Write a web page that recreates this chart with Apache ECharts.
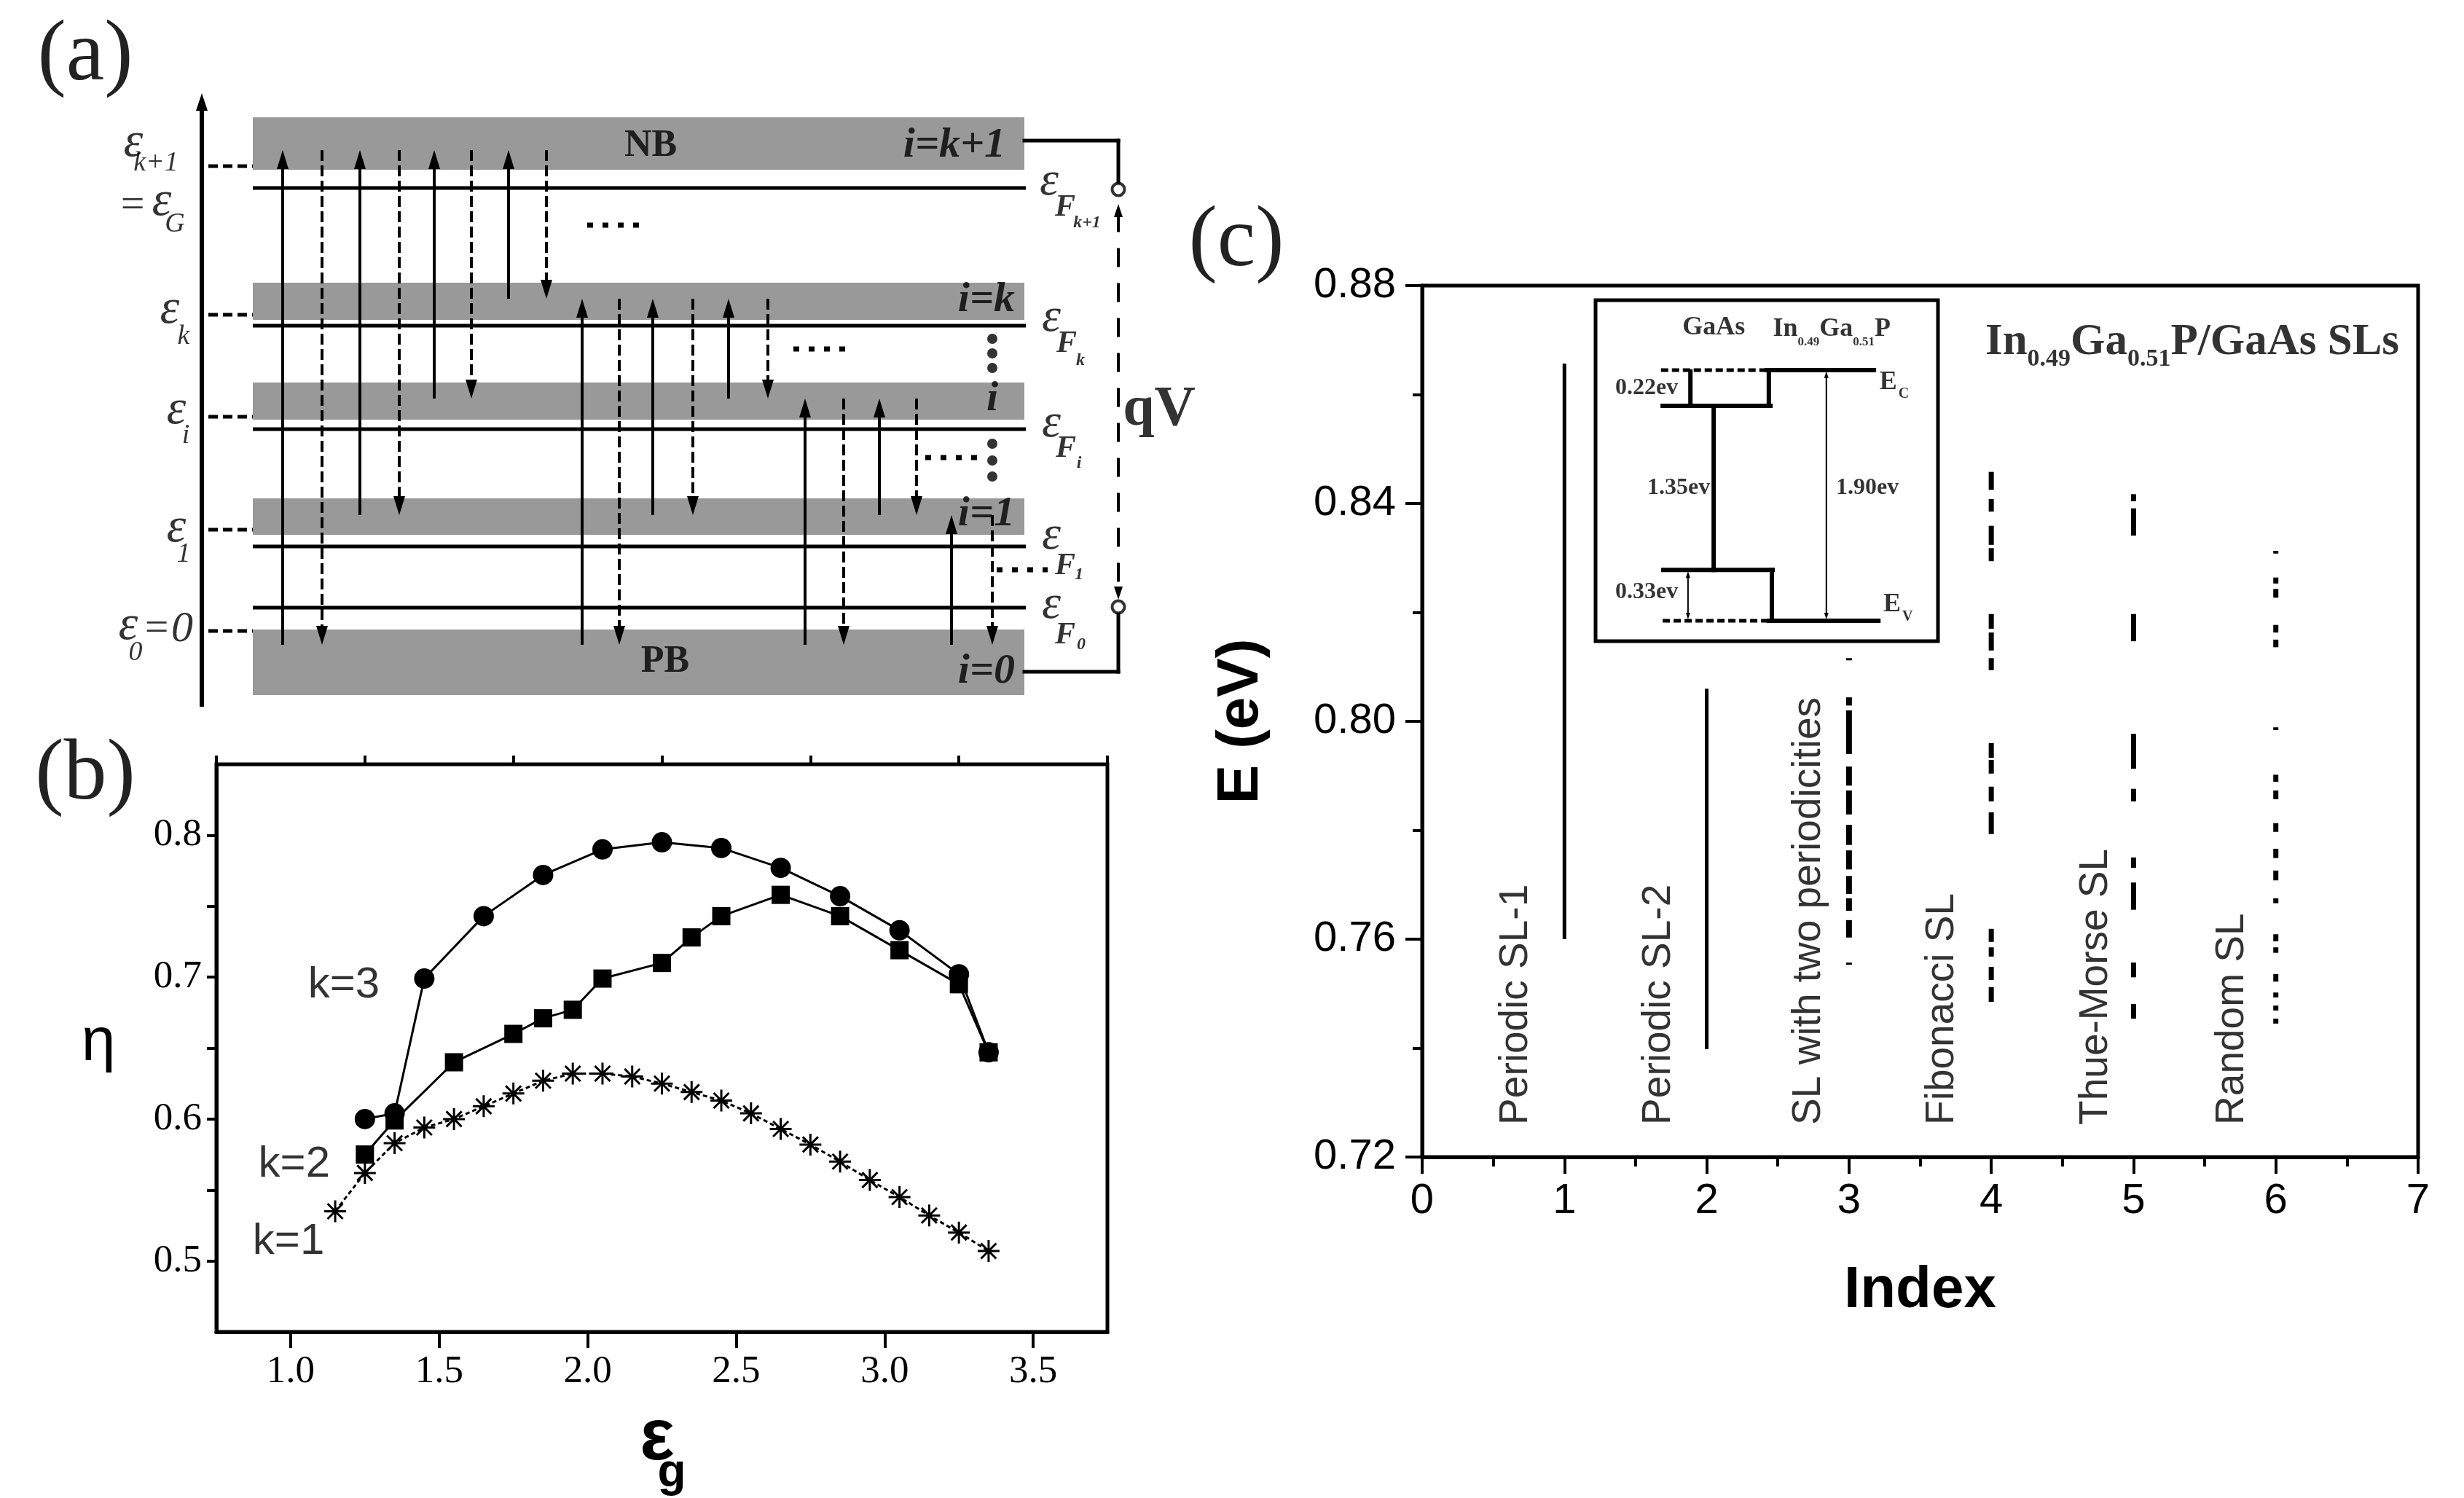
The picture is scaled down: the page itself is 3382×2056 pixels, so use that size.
<!DOCTYPE html>
<html><head><meta charset="utf-8">
<script src="https://cdn.jsdelivr.net/npm/echarts@6/dist/echarts.min.js"></script>
<style>html,body{margin:0;padding:0;background:#fff}#c{width:3382px;height:2056px}</style>
</head><body><div id="c"></div>
<script>
// ================= DATA =================
// ---- Panel (b): efficiency eta vs band gap eps_g ----
const bX_k3 = [1.25,1.35,1.45,1.65,1.85,2.05,2.25,2.45,2.65,2.85,3.05,3.25,3.35];
const bY_k3 = [0.600,0.604,0.699,0.743,0.772,0.790,0.795,0.791,0.777,0.757,0.733,0.702,0.647];
const bX_k2 = [1.25,1.35,1.55,1.75,1.85,1.95,2.05,2.25,2.35,2.45,2.65,2.85,3.05,3.25,3.35];
const bY_k2 = [0.575,0.599,0.640,0.660,0.671,0.677,0.699,0.710,0.728,0.743,0.758,0.743,0.719,0.695,0.647];
const bX_k1 = [1.15,1.25,1.35,1.45,1.55,1.65,1.75,1.85,1.95,2.05,2.15,2.25,2.35,2.45,2.55,2.65,2.75,2.85,2.95,3.05,3.15,3.25,3.35];
const bY_k1 = [0.535,0.562,0.583,0.594,0.600,0.609,0.618,0.627,0.632,0.632,0.630,0.625,0.619,0.613,0.604,0.593,0.582,0.570,0.557,0.545,0.532,0.520,0.507];
const bXTicks = [1.0,1.5,2.0,2.5,3.0,3.5];
const bXMinor = [0.75,1.25,1.75,2.25,2.75,3.25,3.75];
const bYTicks = [0.5,0.55,0.6,0.65,0.7,0.75,0.8];
const bYLabels = [0.5,0.6,0.7,0.8];

// ---- Panel (c): energy levels (eV) per SL index, as [low, high] intervals ----
const cIndex = [1,2,3,4,5,6];
const cNames = ['Periodic SL-1','Periodic SL-2','SL with two periodicities','Fibonacci SL','Thue-Morse SL','Random SL'];
const sl1 = [[0.7600,0.8657]];
const sl2 = [[0.7398,0.8060]];
const sl3 = [[0.8112,0.8116],[0.8029,0.8044],[0.7940,0.8020],[0.7882,0.7917],[0.7829,0.7873],[0.7773,0.7810],
             [0.7728,0.7763],[0.7683,0.7716],[0.7652,0.7675],[0.7603,0.7635],[0.7553,0.7557]];
const sl4 = [[0.8425,0.8458],[0.8385,0.8408],[0.8324,0.8359],[0.8294,0.8318],[0.8170,0.8197],[0.8130,0.8163],
             [0.8094,0.8116],[0.7933,0.7960],[0.7904,0.7929],[0.7853,0.7880],[0.7793,0.7833],[0.7595,0.7619],
             [0.7568,0.7585],[0.7525,0.7549],[0.7485,0.7512]];
const sl5 = [[0.8404,0.8417],[0.8341,0.8391],[0.8147,0.8197],[0.7913,0.7977],[0.7853,0.7876],[0.7731,0.7750],
             [0.7654,0.7704],[0.7530,0.7557],[0.7454,0.7481]];
const sl6 = [[0.8308,0.8313],[0.8253,0.8264],[0.8227,0.8243],[0.8163,0.8177],[0.8136,0.8150],[0.7984,0.7989],
             [0.7889,0.7902],[0.7857,0.7873],[0.7797,0.7813],[0.7749,0.7766],[0.7708,0.7726],[0.7666,0.7675],
             [0.7596,0.7609],[0.7575,0.7585],[0.7522,0.7536],[0.7493,0.7502],[0.7469,0.7478],[0.7445,0.7454]];
const cLevels = [sl1, sl2, sl3, sl4, sl5, sl6];

// ---- Panel (c) inset: band-edge diagram, drawing units (0..1 of inset box) ----
const insEcInGaP = 0.795, insEcGaAs = 0.690, insEvGaAs = 0.209, insEvInGaP = 0.060;

// ---- Panel (a): schematic levels (drawing units, y up). Order: NB, i=k, i, i=1, PB ----
const bandTopA  = [839, 612, 475, 316, 136];
const bandBotA  = [767, 561, 424, 266, 46];
const arrowYA   = [794, 590, 453, 293, 115];
const markerYA  = [772, 568, 428, 273, 134];
const fermiYA   = [742, 553, 411, 250, 166];
const solidColA = [388,494,596,698,799,896,1000,1105,1207,1306];
const dashColA  = [442,548,647,750,850,951,1054,1158,1258,1362];
const transFromA = [4,3,2,1,4,3,2,4,3,4];
const transToA   = [0,0,0,0,1,1,1,2,2,3];

// ================= HELPERS =================
const SERIF = '"Liberation Serif", "Times New Roman", serif';
const SANS = '"Liberation Sans", Arial, sans-serif';

function segSeries(xi, yi, data, o) {
  return {
    type: 'custom', xAxisIndex: xi, yAxisIndex: yi, data: data, silent: true, clip: false, z: o.z || 3,
    renderItem: function (params, api) {
      const a = api.coord([api.value(0), api.value(1)]);
      const b = api.coord([api.value(2), api.value(3)]);
      const dx = b[0] - a[0], dy = b[1] - a[1];
      const len = Math.hypot(dx, dy) || 1;
      const ux = dx / len, uy = dy / len, nx = -uy, ny = ux;
      const L = o.headLen || 0, W = o.headW || 0;
      let p1 = a.slice(), p2 = b.slice();
      const kids = [];
      function head(tip, s) {
        const bx = tip[0] - s * ux * L, by = tip[1] - s * uy * L;
        return { type: 'polygon', shape: { points: [[tip[0], tip[1]], [bx + nx * W, by + ny * W], [bx - nx * W, by - ny * W]] }, style: { fill: '#000' } };
      }
      if (o.arrowEnd) { p2 = [b[0] - ux * L * 0.7, b[1] - uy * L * 0.7]; kids.push(head(b, 1)); }
      if (o.arrowStart) { p1 = [a[0] + ux * L * 0.7, a[1] + uy * L * 0.7]; kids.push(head(a, -1)); }
      kids.unshift({ type: 'line', shape: { x1: p1[0], y1: p1[1], x2: p2[0], y2: p2[1] },
        style: { stroke: '#000', lineWidth: o.width || 2, lineDash: o.dash || null, lineCap: o.cap || 'butt' } });
      return { type: 'group', children: kids };
    }
  };
}
function rectSeries(xi, yi, data, color) {
  return {
    type: 'custom', xAxisIndex: xi, yAxisIndex: yi, data: data, silent: true, clip: false, z: 1,
    renderItem: function (params, api) {
      const a = api.coord([api.value(0), api.value(1)]);
      const b = api.coord([api.value(2), api.value(3)]);
      return { type: 'rect', shape: { x: Math.min(a[0], b[0]), y: Math.min(a[1], b[1]), width: Math.abs(b[0] - a[0]), height: Math.abs(b[1] - a[1]) }, style: { fill: color } };
    }
  };
}
function lbl(x, y, text, style) {
  return { value: [x, y], label: Object.assign({ show: true, formatter: text, position: 'inside', align: 'center', verticalAlign: 'middle', color: '#000' }, style) };
}
function labelSeries(xi, yi, items) {
  return { type: 'scatter', xAxisIndex: xi, yAxisIndex: yi, data: items, symbolSize: 1, itemStyle: { color: 'rgba(0,0,0,0)' }, silent: true, clip: false, z: 10 };
}

// ================= PANEL (a) geometry from arrays =================
const bandXA = [347, 1406];
const aBands = bandTopA.map((t, i) => [bandXA[0], bandBotA[i], bandXA[1], t]);
const aFermi = fermiYA.map(y => [347, y, 1408, y]);
const aMarkers = markerYA.map(y => [286, y, 347, y]);
const aSolidArrows = transFromA.map((f, i) => [solidColA[i], arrowYA[f], solidColA[i], arrowYA[transToA[i]]]);
const aDashArrows = transFromA.map((f, i) => [dashColA[i], arrowYA[transToA[i]], dashColA[i], arrowYA[f]]);
const aAxis = [[277, 30, 277, 872]];
const aCircuit = [[1406, 807, 1535, 807], [1535, 807, 1535, 748], [1535, 158, 1535, 78], [1535, 78, 1406, 78]];
const aQV = [[1535, 720, 1535, 177]];
const aDots = [[806, 691, 877, 691], [1089, 521, 1163, 521], [1270, 372, 1347, 372], [1368, 218, 1438, 218]];
const aBullets = [[1362, 535], [1362, 515], [1362, 495], [1362, 391], [1362, 368], [1362, 346]];
const aTerminals = [[1535, 740], [1535, 167]];

const epsL = { fontFamily: SERIF, fontStyle: 'italic', fontSize: 68 };
const subL = { fontFamily: SERIF, fontStyle: 'italic', fontSize: 38 };
const epsR = { fontFamily: SERIF, fontStyle: 'italic', fontSize: 66 };
const fR = { fontFamily: SERIF, fontStyle: 'italic', fontWeight: 'bold', fontSize: 42 };
const ffR = { fontFamily: SERIF, fontStyle: 'italic', fontWeight: 'bold', fontSize: 24 };
const bandI = { fontFamily: SERIF, fontStyle: 'italic', fontWeight: 'bold', fontSize: 58, align: 'right' };
const bandB = { fontFamily: SERIF, fontWeight: 'bold', fontSize: 52 };

const aLabels = [
  lbl(183, 804, 'ε', epsL), lbl(214, 776, 'k+1', subL),
  lbl(182, 717, '=', { fontFamily: SERIF, fontSize: 58 }), lbl(222, 723, 'ε', epsL), lbl(240, 692, 'G', subL),
  lbl(233, 575, 'ε', epsL), lbl(252, 538, 'k', subL),
  lbl(242, 437, 'ε', epsL), lbl(255, 402, 'i', subL),
  lbl(242, 275, 'ε', epsL), lbl(252, 239, '1', subL),
  lbl(176, 141, 'ε', epsL), lbl(186, 104, '0', subL),
  lbl(215, 136, '=', { fontFamily: SERIF, fontSize: 58 }), lbl(250, 136, '0', { fontFamily: SERIF, fontStyle: 'italic', fontSize: 60 }),
  lbl(1440, 750, 'ε', epsR), lbl(1462, 715, 'F', fR), lbl(1492, 694, 'k+1', ffR),
  lbl(1443, 563, 'ε', epsR), lbl(1464, 528, 'F', fR), lbl(1483, 505, 'k', ffR),
  lbl(1443, 418, 'ε', epsR), lbl(1463, 384, 'F', fR), lbl(1481, 364, 'i', ffR),
  lbl(1443, 264, 'ε', epsR), lbl(1462, 223, 'F', fR), lbl(1481, 211, '1', ffR),
  lbl(1443, 169, 'ε', epsR), lbl(1462, 128, 'F', fR), lbl(1484, 115, '0', ffR),
  lbl(893, 799, 'NB', bandB), lbl(913, 91, 'PB', bandB),
  lbl(1380, 800, 'i=k+1', bandI), lbl(1393, 588, 'i=k', bandI), lbl(1370, 452, 'i', bandI),
  lbl(1393, 294, 'i=1', bandI), lbl(1393, 78, 'i=0', bandI),
  lbl(1591, 437, 'qV', { fontFamily: SERIF, fontWeight: 'bold', fontSize: 78 })
];

// ================= PANEL (c) segments =================
const cSegsThin = [], cSegs3 = [], cSegsDash = [];
cLevels.forEach((lv, k) => {
  lv.forEach(([lo, hi]) => {
    const seg = [cIndex[k], lo, cIndex[k], hi];
    if (k < 2) cSegsThin.push(seg); else if (k === 2) cSegs3.push(seg); else cSegsDash.push(seg);
  });
});
const cLabelX = [0.661, 1.664, 2.72, 3.656, 4.736, 5.694];
const cLabels = cNames.map((n, i) => lbl(cLabelX[i], 0.7259, n, { fontFamily: SANS, fontSize: 55, rotate: 90, align: 'left', verticalAlign: 'middle' }));
cLabels.push({ value: [3.958, 0.8696], label: { show: true, position: 'inside', align: 'left', verticalAlign: 'middle', color: '#000',
  formatter: '{m|In}{s|0.49}{m|Ga}{s|0.51}{m|P/GaAs SLs}',
  rich: { m: { fontFamily: SERIF, fontWeight: 'bold', fontSize: 61, lineHeight: 80, color: '#000' },
          s: { fontFamily: SERIF, fontWeight: 'bold', fontSize: 34, lineHeight: 34, verticalAlign: 'bottom', color: '#000' } } } });

// inset geometry
const insThick = [[0.506, insEcInGaP, 0.506, insEcGaAs], [0.196, insEcGaAs, 0.511, insEcGaAs], [0.500, insEcInGaP, 0.813, insEcInGaP],
  [0.277, insEcInGaP - 0.004, 0.277, insEcGaAs + 0.004], [0.345, insEcGaAs, 0.345, insEvGaAs], [0.198, insEvGaAs, 0.517, insEvGaAs],
  [0.515, insEvGaAs, 0.515, insEvInGaP], [0.506, insEvInGaP, 0.826, insEvInGaP]];
const insDashed = [[0.191, insEcInGaP, 0.496, insEcInGaP], [0.196, insEvInGaP, 0.506, insEvInGaP]];
const insArrows = [[0.674, insEcInGaP - 0.004, 0.674, insEvInGaP + 0.004], [0.270, insEvGaAs - 0.004, 0.270, insEvInGaP + 0.004]];
const insT = { fontFamily: SERIF, fontWeight: 'bold', fontSize: 32 };
const insLabels = [
  lbl(0.345, 0.919, 'GaAs', { fontFamily: SERIF, fontWeight: 'bold', fontSize: 36 }),
  { value: [0.518, 0.915], label: { show: true, position: 'inside', align: 'left', verticalAlign: 'middle', formatter: '{m|In}{s|0.49}{m|Ga}{s|0.51}{m|P}',
    rich: { m: { fontFamily: SERIF, fontWeight: 'bold', fontSize: 36, lineHeight: 52, color: '#000' },
            s: { fontFamily: SERIF, fontWeight: 'bold', fontSize: 17, lineHeight: 18, verticalAlign: 'bottom', color: '#000' } } } },
  lbl(0.149, 0.741, '0.22ev', insT), lbl(0.243, 0.449, '1.35ev', insT), lbl(0.794, 0.449, '1.90ev', insT), lbl(0.149, 0.143, '0.33ev', insT),
  lbl(0.855, 0.759, 'E', { fontFamily: SERIF, fontWeight: 'bold', fontSize: 36 }), lbl(0.900, 0.724, 'C', { fontFamily: SERIF, fontWeight: 'bold', fontSize: 20 }),
  lbl(0.866, 0.107, 'E', { fontFamily: SERIF, fontWeight: 'bold', fontSize: 36 }), lbl(0.911, 0.071, 'V', { fontFamily: SERIF, fontWeight: 'bold', fontSize: 20 })
];

// (b) labels
const bLabels = [
  lbl(1.179, 0.694, 'k=3', { fontFamily: SANS, fontSize: 60 }),
  lbl(1.012, 0.568, 'k=2', { fontFamily: SANS, fontSize: 60 }),
  lbl(0.993, 0.5135, 'k=1', { fontFamily: SANS, fontSize: 60 })
];

const noSplit = { show: false };
const blackLine = { show: true, lineStyle: { color: '#000', width: 5 } };
const tagStyle = { fontFamily: SERIF, fontSize: 118, fill: '#222', align: 'center', verticalAlign: 'middle', textAlign: 'center', textVerticalAlign: 'middle' };

const option = {
  animation: false,
  backgroundColor: '#fff',
  grid: [
    { left: 0, top: 0, width: 1700, height: 1000, show: false },
    { left: 297, top: 1049, width: 1223, height: 779, show: true, borderColor: '#000', borderWidth: 5 },
    { left: 1952, top: 392, width: 1367, height: 1196, show: true, borderColor: '#000', borderWidth: 5 },
    { left: 2190, top: 412, width: 470, height: 468, show: true, borderColor: '#000', borderWidth: 5, backgroundColor: '#fff', z: 4 }
  ],
  xAxis: [
    { gridIndex: 0, type: 'value', min: 0, max: 1700, show: false },
    { gridIndex: 1, type: 'value', min: 0.75, max: 3.75, axisLine: blackLine, splitLine: noSplit,
      axisTick: { customValues: bXTicks, length: 22, lineStyle: { color: '#000', width: 4 } },
      axisLabel: { customValues: bXTicks, formatter: v => v.toFixed(1), fontFamily: SERIF, fontSize: 53, margin: 29, color: '#000' } },
    { gridIndex: 1, type: 'value', min: 0.75, max: 3.75, axisLine: { show: false }, splitLine: noSplit,
      axisTick: { customValues: bXMinor, length: 12, lineStyle: { color: '#000', width: 4 } }, axisLabel: { show: false } },
    { gridIndex: 2, type: 'value', min: 0, max: 7, interval: 1, axisLine: blackLine, splitLine: noSplit,
      axisTick: { length: 23, lineStyle: { color: '#000', width: 4 } },
      minorTick: { show: true, splitNumber: 2, length: 13, lineStyle: { color: '#000', width: 4 } }, minorSplitLine: { show: false },
      axisLabel: { fontFamily: SANS, fontSize: 58, margin: 32, color: '#000' },
      name: 'Index', nameLocation: 'middle', nameGap: 144, nameTextStyle: { fontFamily: SANS, fontWeight: 'bold', fontSize: 80, color: '#000' } },
    { gridIndex: 3, type: 'value', min: 0, max: 1, show: false }
  ],
  yAxis: [
    { gridIndex: 0, type: 'value', min: 0, max: 1000, show: false },
    { gridIndex: 1, type: 'value', min: 0.45, max: 0.85, axisLine: blackLine, splitLine: noSplit,
      axisTick: { customValues: bYTicks, length: 13, lineStyle: { color: '#000', width: 4 } },
      axisLabel: { customValues: bYLabels, formatter: v => v.toFixed(1), fontFamily: SERIF, fontSize: 53, margin: 20, color: '#000' } },
    { gridIndex: 2, type: 'value', min: 0.72, max: 0.88, interval: 0.04, axisLine: blackLine, splitLine: noSplit,
      axisTick: { length: 23, lineStyle: { color: '#000', width: 4 } },
      minorTick: { show: true, splitNumber: 2, length: 13, lineStyle: { color: '#000', width: 4 } }, minorSplitLine: { show: false },
      axisLabel: { formatter: v => v.toFixed(2), fontFamily: SANS, fontSize: 58, margin: 36, color: '#000' },
      name: 'E (eV)', nameLocation: 'middle', nameRotate: 90, nameGap: 208, nameTextStyle: { fontFamily: SANS, fontWeight: 'bold', fontSize: 80, color: '#000' } },
    { gridIndex: 3, type: 'value', min: 0, max: 1, show: false }
  ],
  graphic: [
    { type: 'text', x: 117, y: 78, style: Object.assign({ text: '(a)' }, tagStyle) },
    { type: 'text', x: 117, y: 1065, style: Object.assign({ text: '(b)' }, tagStyle) },
    { type: 'text', x: 1697, y: 333, style: Object.assign({ text: '(c)' }, tagStyle) },
    { type: 'text', x: 135, y: 1432, style: { text: 'η', fontFamily: SANS, fontSize: 84, fill: '#000', align: 'center', verticalAlign: 'middle', textAlign: 'center', textVerticalAlign: 'middle' } },
    { type: 'text', x: 902, y: 1975, style: { text: 'ε', fontFamily: SANS, fontWeight: 'bold', fontSize: 100, fill: '#000', align: 'center', verticalAlign: 'middle', textAlign: 'center', textVerticalAlign: 'middle' } },
    { type: 'text', x: 922, y: 2022, style: { text: 'g', fontFamily: SANS, fontWeight: 'bold', fontSize: 64, fill: '#000', align: 'center', verticalAlign: 'middle', textAlign: 'center', textVerticalAlign: 'middle' } }
  ],
  series: [
    // ---- panel (a) ----
    rectSeries(0, 0, aBands, '#999999'),
    segSeries(0, 0, aFermi, { width: 5 }),
    segSeries(0, 0, aMarkers, { width: 5, dash: [13, 7] }),
    segSeries(0, 0, aAxis, { width: 6, arrowEnd: true, headLen: 24, headW: 8 }),
    segSeries(0, 0, aSolidArrows, { width: 4, arrowEnd: true, headLen: 26, headW: 8, z: 4 }),
    segSeries(0, 0, aDashArrows, { width: 4, dash: [15, 6], arrowEnd: true, headLen: 26, headW: 8, z: 4 }),
    segSeries(0, 0, aCircuit, { width: 5, cap: 'square' }),
    segSeries(0, 0, aQV, { width: 4, dash: [26, 22], arrowEnd: true, arrowStart: true, headLen: 18, headW: 6 }),
    segSeries(0, 0, aDots, { width: 7, dash: [8, 13] }),
    { type: 'scatter', xAxisIndex: 0, yAxisIndex: 0, data: aBullets, symbol: 'circle', symbolSize: 14, itemStyle: { color: '#000' }, silent: true, z: 5 },
    { type: 'scatter', xAxisIndex: 0, yAxisIndex: 0, data: aTerminals, symbol: 'circle', symbolSize: 17, itemStyle: { color: '#fff', borderColor: '#000', borderWidth: 4 }, silent: true, z: 6 },
    labelSeries(0, 0, aLabels),
    // ---- panel (b) ----
    { type: 'line', xAxisIndex: 1, yAxisIndex: 1, data: bX_k1.map((x, i) => [x, bY_k1[i]]), symbol: 'path://M10,0L10,20M0,10L20,10M3,3L17,17M17,3L3,17', symbolSize: 30,
      itemStyle: { color: '#000', borderColor: '#000', borderWidth: 3 }, lineStyle: { color: '#000', width: 3, type: [6, 4] }, silent: true, z: 3 },
    { type: 'line', xAxisIndex: 1, yAxisIndex: 1, data: bX_k2.map((x, i) => [x, bY_k2[i]]), symbol: 'rect', symbolSize: 25,
      itemStyle: { color: '#000' }, lineStyle: { color: '#000', width: 3 }, silent: true, z: 4 },
    { type: 'line', xAxisIndex: 1, yAxisIndex: 1, data: bX_k3.map((x, i) => [x, bY_k3[i]]), symbol: 'circle', symbolSize: 28,
      itemStyle: { color: '#000' }, lineStyle: { color: '#000', width: 3 }, silent: true, z: 5 },
    labelSeries(1, 1, bLabels),
    // ---- panel (c) ----
    segSeries(3, 2, cSegsThin, { width: 5 }),
    segSeries(3, 2, cSegs3, { width: 8 }),
    segSeries(3, 2, cSegsDash, { width: 7 }),
    labelSeries(3, 2, cLabels),
    // ---- inset ----
    segSeries(4, 3, insThick, { width: 6, cap: 'square', z: 6 }),
    segSeries(4, 3, insDashed, { width: 5, dash: [10, 5], z: 6 }),
    segSeries(4, 3, insArrows, { width: 2, arrowEnd: true, arrowStart: true, headLen: 9, headW: 3, z: 6 }),
    Object.assign(labelSeries(4, 3, insLabels), { z: 12 })
  ]
};

const chart = echarts.init(document.getElementById('c'), null, { renderer: 'canvas', width: 3382, height: 2056 });
chart.setOption(option);
</script>
</body></html>
